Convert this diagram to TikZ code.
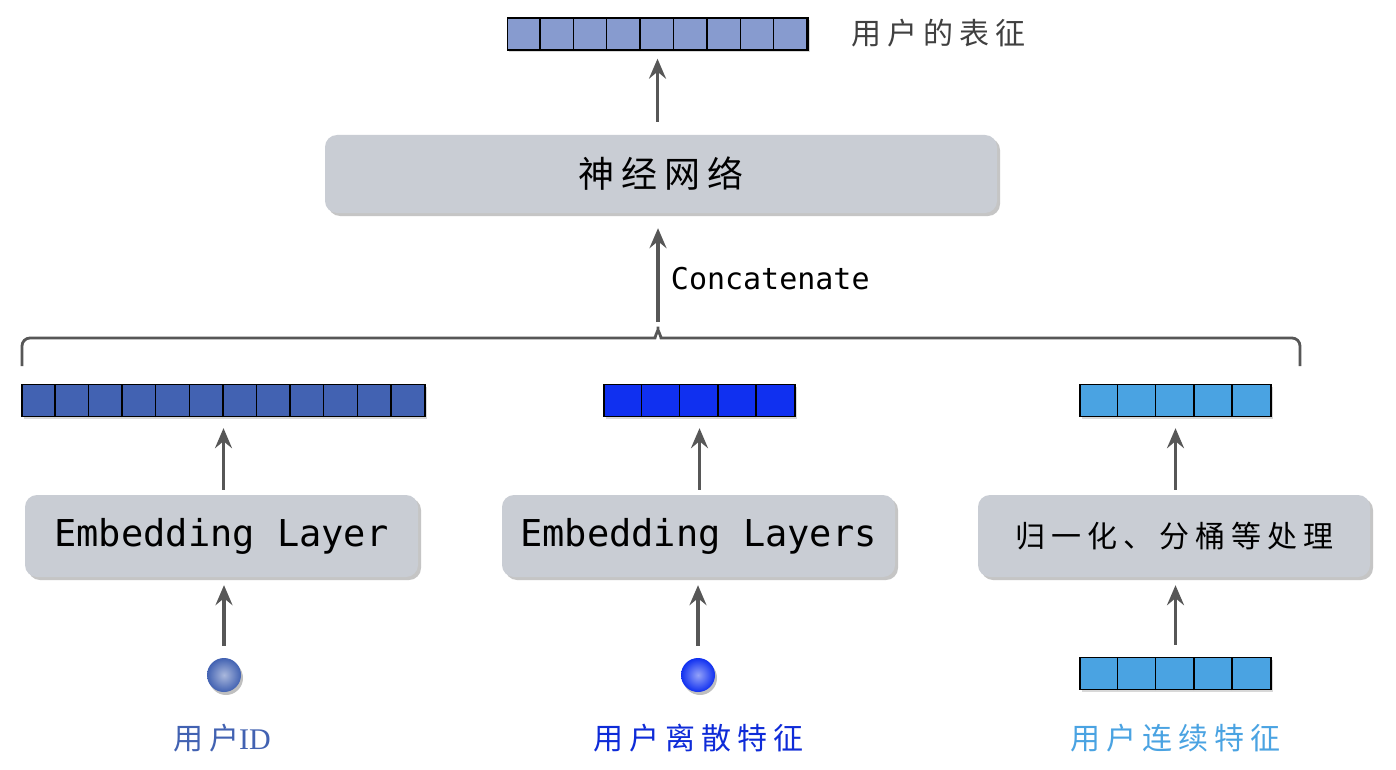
\documentclass[tikz,border=0pt]{standalone}
\usepackage{fontspec}
\setmonofont{DejaVu Sans Mono}
\newfontfamily\cjk[LetterSpace=20]{Noto Sans CJK SC}
\newfontfamily\idfont{Liberation Serif}
\usetikzlibrary{positioning,shadows,arrows.meta}

\definecolor{boxgray}{HTML}{C9CDD4}
\definecolor{arrgray}{HTML}{575757}
\definecolor{repblue}{HTML}{879BCF}
\definecolor{idblue}{HTML}{4262B2}
\definecolor{catblue}{HTML}{1030F0}
\definecolor{numblue}{HTML}{4AA3E2}
\definecolor{txtgray}{HTML}{404040}

\tikzset{
  layer/.style={fill=boxgray, rounded corners=12pt, minimum height=80pt,
    drop shadow={shadow xshift=3pt, shadow yshift=-3pt, fill=black!45, opacity=0.5}},
  vecbar/.style={draw=black, line width=1.4pt, minimum height=32pt, inner sep=0pt,
    drop shadow={shadow xshift=2pt, shadow yshift=-2pt, fill=black!30, opacity=0.5}},
  arr/.style={-{Stealth[length=20pt,width=17pt,inset=7pt]}, line width=3.2pt, draw=arrgray,
    shorten <=8pt, shorten >=9pt},
  ball/.style={circle, minimum size=34pt, inner sep=0pt, shading=radial,
    drop shadow={shadow xshift=2pt, shadow yshift=-3pt, fill=black!50, opacity=0.5}}
}

% bar of cells: name, x, y, cells, cell width, colour
\newcommand{\cellbar}[6]{
  \node[vecbar, fill=#6, minimum width={#4*#5pt}] (#1) at (#2,#3) {};
  \foreach \k in {1,...,#4}
    \draw[line width=1.4pt] ([xshift={\k*#5pt}]#1.south west) -- ([xshift={\k*#5pt}]#1.north west);
}

\begin{document}
\begin{tikzpicture}[x=1pt, y=-1pt]

  \useasboundingbox[fill=white] (0,0) rectangle (1396,770);

  % output
  \cellbar{repbar}{657.5}{34}{9}{33.4}{repblue}
  \node[text=txtgray] (replabel) at (938,33) {\fontsize{30}{36}\selectfont\cjk 用户的表征};

  % network
  \node[layer, minimum width=672pt, minimum height=78pt] (nn) at (661,174)
    {\fontsize{36}{42}\selectfont\cjk 神经网络};
  \draw[arr, shorten <=13pt, shorten >=8pt] (nn.north -| repbar) -- (repbar);

  % brace
  \coordinate (brL) at (22,366);
  \coordinate (brR) at (1300,366);
  \coordinate (brtip) at (658,322);
  \draw[line width=2.8pt, draw=arrgray, rounded corners=8pt]
    (brL) -- (22,338) -- (647,338) to[out=0, in=-90] (brtip)
    to[out=-90, in=180] (669,338) -- (1300,338) -- (brR);
  \draw[arr, shorten <=0pt, shorten >=15pt] (brtip) -- (brtip |- nn.south)
    node[pos=0.4, right=8pt] {\fontsize{30}{36}\selectfont\ttfamily Concatenate};

  % embeddings
  \cellbar{idbar}{223.5}{400.5}{12}{33.6}{idblue}
  \cellbar{catbar}{699.5}{400.5}{5}{38.2}{catblue}
  \cellbar{numbar}{1175.5}{400.5}{5}{38.2}{numblue}

  \node[layer, minimum width=393pt, minimum height=82pt] (embid) at (221.5,536)
    {\fontsize{37}{42}\selectfont\ttfamily Embedding Layer};
  \node[layer, minimum width=393pt, minimum height=82pt] (embcat) at (698.5,536)
    {\fontsize{37}{42}\selectfont\ttfamily Embedding Layers};
  \node[layer, minimum width=392pt, minimum height=82pt] (norm) at (1174,536)
    {\fontsize{30}{36}\selectfont\cjk 归一化、分桶等处理};

  \draw[arr, shorten <=5pt, shorten >=11pt] (embid.north -| idbar) -- (idbar);
  \draw[arr, shorten <=5pt, shorten >=11pt] (embcat.north -| catbar) -- (catbar);
  \draw[arr, shorten <=5pt, shorten >=11pt] (norm.north -| numbar) -- (numbar);

  % inputs
  \node[ball, inner color=idblue!45!white, outer color=idblue] (idball) at (224,675) {};
  \node[ball, inner color=catblue!45!white, outer color=catblue] (catball) at (698,675) {};
  \cellbar{numin}{1175.5}{673.5}{5}{38.2}{numblue}

  \draw[arr, shorten <=12pt, shorten >=8pt] (idball) -- (idball |- embid.south);
  \draw[arr, shorten <=12pt, shorten >=8pt] (catball) -- (catball |- embcat.south);
  \draw[arr, shorten <=12pt, shorten >=8pt] (numin) -- (numin |- norm.south);

  \node[text=idblue] (idlabel) at (222,738) {\fontsize{30}{36}\selectfont\cjk 用户\idfont ID};
  \node[text=catblue!90!black] (catlabel) at (698,738) {\fontsize{30}{36}\selectfont\cjk 用户离散特征};
  \node[text=numblue] (numlabel) at (1175,738) {\fontsize{30}{36}\selectfont\cjk 用户连续特征};

\end{tikzpicture}
\end{document}
